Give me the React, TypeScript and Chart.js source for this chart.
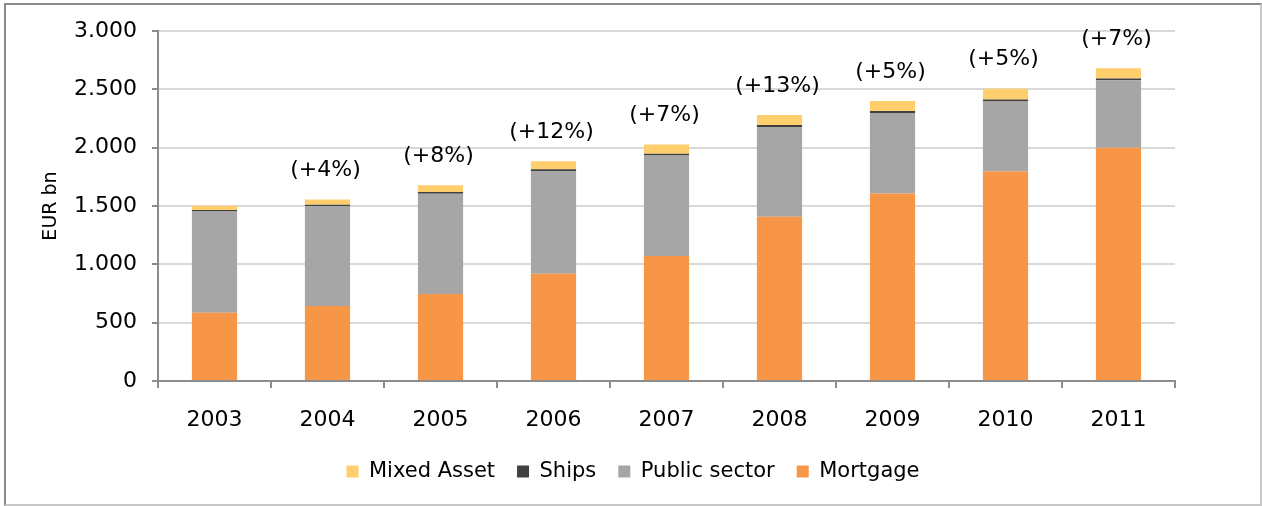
import React, { useEffect, useRef } from "react";
import { Chart, registerables } from "chart.js";

Chart.register(...registerables);

const years = ["2003", "2004", "2005", "2006", "2007", "2008", "2009", "2010", "2011"];
const mortgage = [585, 642, 745, 920, 1072, 1407, 1608, 1795, 2000];
const publicSector = [868, 855, 860, 880, 860, 770, 690, 600, 578];
const ships = [12, 14, 15, 15, 15, 18, 16, 18, 14];
const mixedAsset = [37, 45, 57, 68, 80, 84, 85, 92, 88];
const growthLabels = ["", "(+4%)", "(+8%)", "(+12%)", "(+7%)", "(+13%)", "(+5%)", "(+5%)", "(+7%)"];
const yTicks = [0, 500, 1000, 1500, 2000, 2500, 3000];

const FONT = "'DejaVu Sans', Verdana, sans-serif";

const growthPlugin = {
  id: "growthLabels",
  afterDatasetsDraw(chart: any) {
    const { ctx, scales } = chart;
    const xs = scales.x;
    const ys = scales.y;
    ctx.save();
    ctx.font = `22px ${FONT}`;
    ctx.fillStyle = "#000";
    ctx.textAlign = "center";
    ctx.textBaseline = "middle";
    years.forEach((_, i) => {
      const label = growthLabels[i];
      if (!label) return;
      const total = mortgage[i] + publicSector[i] + ships[i] + mixedAsset[i];
      const x = xs.getPixelForValue(i) - 2;
      const y = ys.getPixelForValue(total) - 29;
      ctx.fillText(label, x, y);
    });
    ctx.restore();
  },
};

export default function App() {
  const canvasRef = useRef<HTMLCanvasElement | null>(null);

  useEffect(() => {
    if (!canvasRef.current) return;
    const chart = new Chart(canvasRef.current, {
      type: "bar",
      data: {
        labels: years,
        datasets: [
          { label: "Mortgage", data: mortgage, backgroundColor: "#F79646", borderWidth: 0 },
          { label: "Public sector", data: publicSector, backgroundColor: "#A6A6A6", borderWidth: 0 },
          { label: "Ships", data: ships, backgroundColor: "#404040", borderWidth: 0 },
          { label: "Mixed Asset", data: mixedAsset, backgroundColor: "#FFCF6E", borderWidth: 0 },
        ],
      },
      options: {
        animation: false,
        responsive: true,
        maintainAspectRatio: false,
        layout: { padding: { left: 0, right: 0, top: 20, bottom: 12 } },
        datasets: { bar: { barPercentage: 0.4, categoryPercentage: 1 } },
        plugins: {
          legend: {
            position: "bottom",
            reverse: true,
            labels: {
              boxWidth: 12,
              boxHeight: 12,
              padding: 22,
              color: "#000",
              font: { family: FONT, size: 21 },
            },
          },
          tooltip: { enabled: false },
        },
        scales: {
          x: {
            stacked: true,
            grid: {
              display: true,
              drawOnChartArea: false,
              drawTicks: true,
              tickLength: 7,
              tickColor: "#8C8C8C",
              lineWidth: 2,
              offset: true,
            },
            border: { display: true, color: "#8C8C8C", width: 2 },
            ticks: { color: "#000", font: { family: FONT, size: 22 }, padding: 19 },
            afterFit(scale: any) {
              scale.height = 58;
            },
          },
          y: {
            stacked: true,
            min: 0,
            max: 3000,
            afterBuildTicks(scale: any) {
              scale.ticks = yTicks.map((v) => ({ value: v }));
            },
            grid: {
              color: "#D9D9D9",
              lineWidth: 2,
              tickColor: "#8C8C8C",
              tickLength: 6,
            },
            border: { display: true, color: "#8C8C8C", width: 2 },
            ticks: {
              color: "#000",
              font: { family: FONT, size: 22, lineHeight: 1 },
              padding: 15,
              callback: (v: any) => Number(v).toLocaleString("de-DE"),
            },
            title: {
              display: true,
              text: "EUR bn",
              color: "#000",
              font: { family: FONT, size: 19 },
              padding: { top: 34, bottom: 0 },
            },
            afterFit(scale: any) {
              scale.width = 152;
            },
          },
          yRight: {
            position: "right",
            display: true,
            grid: { display: false, drawTicks: false },
            border: { display: false },
            ticks: { display: false },
            afterFit(scale: any) {
              scale.width = 85;
            },
          },
        },
      },
      plugins: [growthPlugin],
    });
    return () => chart.destroy();
  }, []);

  return (
    <div
      style={{
        position: "fixed",
        left: 4,
        top: 3,
        width: 1258,
        height: 503,
        boxSizing: "border-box",
        borderLeft: "2px solid #8C8C8C",
        borderTop: "2px solid #8C8C8C",
        borderRight: "2px solid #C8C8C8",
        borderBottom: "2px solid #C8C8C8",
        background: "#fff",
      }}
    >
      <div style={{ position: "relative", width: "100%", height: "100%" }}>
        <canvas ref={canvasRef} />
      </div>
    </div>
  );
}
